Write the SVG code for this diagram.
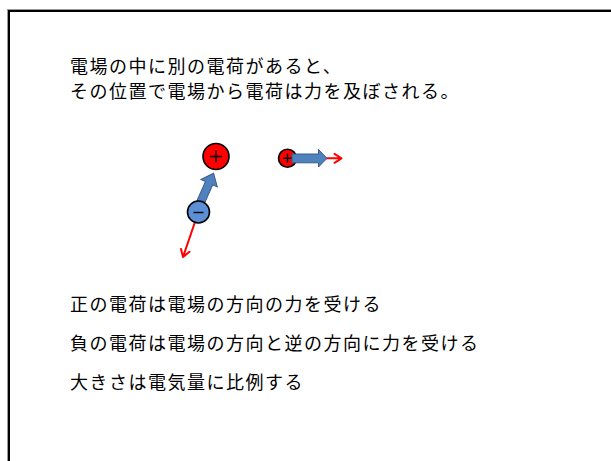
<svg xmlns="http://www.w3.org/2000/svg" width="611" height="461" viewBox="0 0 611 461">
<defs>
<style>
.t{font-family:"Noto Sans CJK JP","Noto Sans CJK SC",sans-serif;font-size:18px;letter-spacing:1.5px;fill:#000}
.pos{fill:#FF0000;stroke:#000;stroke-width:1.6}
.neg{fill:#5B8FD6;stroke:#000;stroke-width:1.6}
.sign{stroke:#000;stroke-width:1.4;fill:none}
.barrow{fill:#4F81BD;stroke:#385D8A;stroke-width:1}
.force{stroke:#FF0000;stroke-width:2;fill:none;stroke-linecap:round;stroke-linejoin:round}
</style>
</defs>
<rect width="611" height="461" fill="#fff"/>
<rect x="7.5" y="9.5" width="700" height="500" fill="none" stroke="#999" stroke-width="1"/>
<rect x="9" y="11" width="700" height="500" fill="none" stroke="#000" stroke-width="2"/>
<g id="text-top">
<text class="t" x="70" y="73">電場の中に別の電荷があると、</text>
<text class="t" x="70" y="97.5">その位置で電場から電荷は力を及ぼされる。</text>
</g>
<g id="text-bottom">
<text class="t" x="70" y="311">正の電荷は電場の方向の力を受ける</text>
<text class="t" x="70" y="350">負の電荷は電場の方向と逆の方向に力を受ける</text>
<text class="t" x="70" y="389">大きさは電気量に比例する</text>
</g>
<g id="connectors">
<path class="barrow" transform="translate(198.5,207) rotate(-66)" d="M0,-4 L26,-4 L26,-9 L37,0 L26,9 L26,4 L0,4 Z"/>
<path class="force" d="M195,222 L183,257 M189.5,251.8 L183,257 L181,248.9"/>
<path class="force" d="M326,158.3 L341.5,158.3 M334.5,153.8 L341.5,158.3 L334.5,162.8"/>
</g>
<g id="charge-positive-big">
<circle class="pos" cx="216" cy="156.5" r="13"/>
<path class="sign" d="M210,156.5 H222 M216,150.5 V162.5"/>
</g>
<g id="charge-negative">
<circle class="neg" cx="198.5" cy="212" r="11"/>
<path class="sign" d="M193.5,212.5 H203.5"/>
</g>
<g id="charge-positive-small">
<circle class="pos" cx="287.5" cy="158.3" r="9"/>
<path class="sign" d="M283,158.3 H292 M287.5,153.8 V162.8"/>
<path class="barrow" d="M292,154 L318.5,154 L318.5,149.5 L327,158.3 L318.5,167 L318.5,162.8 L292,162.8 Z"/>
</g>
</svg>
